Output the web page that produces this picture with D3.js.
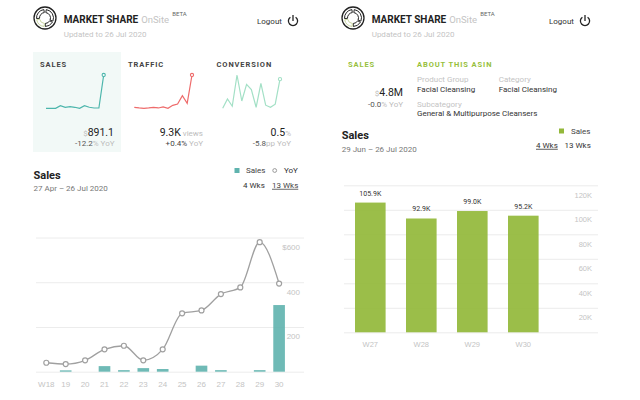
<!DOCTYPE html>
<html>
<head>
<meta charset="utf-8">
<script src="https://cdn.jsdelivr.net/npm/d3@7"></script>
<style>
  html, body { margin: 0; padding: 0; background: #fff; }
  svg { display: block; font-family: Roboto, sans-serif; }
  .domain { display: none; }
</style>
</head>
<body>
<svg id="chart" width="640" height="400"></svg>
<script>
// left chart data
var weeks13 = ["W18", "19", "20", "21", "22", "23", "24", "25", "26", "27", "28", "29", "30"];
var sales13 = [0, 6, 0, 25, 7, 16, 12, 0, 27, 7, 0, 7, 298];
var yoy13 = [40, 34, 51, 100, 116, 51, 100, 261, 274, 347, 377, 579, 394];
var ticks13 = [0, 200, 400, 600];

// sparklines
var sparkSales = [40, 40, 40, 108, 66, 83, 66, 40, 108, 66, 48, 48, 891];
var sparkTraffic = [5129, 5043, 5000, 5043, 5129, 5043, 5172, 5000, 5387, 5559, 6634, 5645, 9300];
var sparkConversion = [0.22, 0.31, 0.24, 0.54, 0.29, 0.45, 0.40, 0.23, 0.46, 0.25, 0.23, 0.26, 0.50];

// right chart data
var weeks4 = ["W27", "W28", "W29", "W30"];
var sales4 = [105.9, 92.9, 99.0, 95.2];
var ticks4 = [0, 20, 40, 60, 80, 100, 120];

var teal = "#5fb3ae", green = "#93b83a", dark = "#222", grey = "#bdbdbd", mid = "#777";

var svg = d3.select("#chart");

function label(g, x, y, str, size, color, opts) {
  opts = opts || {};
  return g.append("text")
    .attr("x", x).attr("y", y)
    .attr("dy", "0.35em")
    .attr("font-size", size)
    .attr("fill", color)
    .attr("text-anchor", opts.anchor || "start")
    .attr("font-weight", opts.weight || 400)
    .attr("letter-spacing", opts.spacing || 0)
    .text(str);
}

// text made of coloured pieces, right aligned
function pieces(g, x, y, parts) {
  var t = g.append("text").attr("x", x).attr("y", y).attr("dy", "0.35em").attr("text-anchor", "end");
  parts.forEach(function(p) {
    t.append("tspan").attr("font-size", p[1]).attr("fill", p[2]).text(p[0]);
  });
}

function header(xLogo, xLogout) {
  var g = svg.append("g");
  var logo = g.append("g").attr("transform", "translate(" + xLogo + ",18)");
  logo.append("circle").attr("r", 11).attr("fill", "none").attr("stroke", "#222").attr("stroke-width", 1.3);
  var arc = d3.arc().innerRadius(5.5).outerRadius(8.5);
  [[0.15, 1.95, "#222"], [2.1, 3.1, "#222"], [3.25, 4.5, "#c9d6a0"], [4.65, 6.15, "#222"]].forEach(function(a) {
    logo.append("path")
      .attr("d", arc({ startAngle: a[0], endAngle: a[1] }))
      .attr("fill", "none").attr("stroke", a[2]).attr("stroke-width", 1);
  });
  var xt = xLogo + 18.7;
  label(g, xt, 19, "MARKET SHARE", 10, "#222", { weight: 700 });
  label(g, xt + 77.5, 19.5, "OnSite", 9.5, "#c4c4c4");
  label(g, xt + 108.5, 14, "BETA", 6, "#666");
  label(g, xt, 34, "Updated to 26 Jul 2020", 8, "#c4c4c4");
  label(g, xLogout, 21, "Logout", 8, "#333");
  var p = g.append("g").attr("transform", "translate(" + (xLogout + 36) + ",21)")
    .attr("fill", "none").attr("stroke", "#222").attr("stroke-width", 1.3);
  p.append("path").attr("d", d3.arc()({ innerRadius: 4.6, outerRadius: 4.6, startAngle: 0.6, endAngle: 5.68 }));
  p.append("line").attr("y1", -6).attr("y2", 0);
}

function spark(values, x0, x1, color) {
  var x = d3.scalePoint().domain(d3.range(values.length)).range([x0, x1]);
  var y = d3.scaleLinear().domain(d3.extent(values)).range([108.3, 75]);
  var line = d3.line().x(function(d, i) { return x(i); }).y(function(d) { return y(d); });
  svg.append("path").attr("d", line(values)).attr("fill", "none").attr("stroke", color).attr("stroke-width", 1.2);
  svg.append("circle").attr("cx", x1).attr("cy", y(values[values.length - 1])).attr("r", 1.6)
    .attr("fill", "#fff").attr("stroke", color).attr("stroke-width", 1.1);
}

// ---------- left panel ----------
header(45, 257);

svg.append("rect").attr("x", 33).attr("y", 52).attr("width", 88).attr("height", 100).attr("fill", "#f2f9f7");
label(svg, 40, 64, "SALES", 7.5, "#444", { weight: 700, spacing: 0.9 });
label(svg, 128, 64, "TRAFFIC", 7.5, "#444", { weight: 700, spacing: 0.9 });
label(svg, 216.5, 64, "CONVERSION", 7.5, "#444", { weight: 700, spacing: 0.9 });

spark(sparkSales, 46, 103.7, "#4db6ac");
spark(sparkTraffic, 134.3, 192, "#ee6b6b");
spark(sparkConversion, 222.7, 280, "#a3e0c6");

pieces(svg, 114, 130, [["$", 8, grey], ["891.1", 10.5, "#222"]]);
pieces(svg, 114.5, 140.5, [["-12.2", 8, "#555"], ["% YoY", 8, grey]]);
pieces(svg, 203, 130, [["9.3K", 10.5, "#222"], [" views", 8, grey]]);
pieces(svg, 203, 140.5, [["+0.4%", 8, "#444"], [" YoY", 8, grey]]);
pieces(svg, 291, 130, [["0.5", 10.5, "#222"], ["%", 8, grey]]);
pieces(svg, 291, 140.5, [["-5.8", 8, "#555"], ["pp YoY", 8, grey]]);

label(svg, 33.5, 175, "Sales", 11, dark, { weight: 700 });
label(svg, 33.5, 188.5, "27 Apr \u2013 26 Jul 2020", 8, mid);

svg.append("rect").attr("x", 234.5).attr("y", 168).attr("width", 5).attr("height", 5).attr("fill", teal);
label(svg, 246, 170.5, "Sales", 8, "#444");
svg.append("circle").attr("cx", 274.7).attr("cy", 170.5).attr("r", 1.9).attr("fill", "#fff").attr("stroke", "#999");
label(svg, 284, 170.5, "YoY", 8, "#333");
label(svg, 243, 185, "4 Wks", 8, "#333");
label(svg, 272, 185, "13 Wks", 8, "#444").attr("text-decoration", "underline");

var x13 = d3.scaleBand().domain(weeks13).range([36.6, 288.8]).paddingInner(0.4).paddingOuter(0.2);
var y13 = d3.scaleLinear().domain([0, 600]).range([371.7, 237.5]);

var yAxis13 = d3.axisRight(y13).tickValues(ticks13).tickSize(0)
  .tickFormat(function(d) { return d === 0 ? "" : d === 600 ? "$600" : d; });
var gy13 = svg.append("g").attr("transform", "translate(300,0)").call(yAxis13);
gy13.selectAll(".tick line").attr("x1", -264).attr("x2", 4).attr("stroke", "#ececec");
gy13.selectAll(".tick text").attr("x", 0).attr("dy", "1.5em")
  .attr("text-anchor", "end").attr("fill", "#c4c4c4").attr("font-size", 8);

var xAxis13 = d3.axisBottom(x13).tickSize(0);
var gx13 = svg.append("g").attr("transform", "translate(0,371.7)").call(xAxis13);
gx13.selectAll(".tick text").attr("y", 12.3).attr("dy", "0.35em")
  .attr("fill", "#c4c4c4").attr("font-size", 8);

svg.append("g").selectAll("rect").data(sales13).enter().append("rect")
  .attr("x", function(d, i) { return x13(weeks13[i]); })
  .attr("width", x13.bandwidth())
  .attr("y", function(d) { return y13(d); })
  .attr("height", function(d) { return y13(0) - y13(d); })
  .attr("fill", teal).attr("fill-opacity", 0.9);

var cx13 = function(d, i) { return x13(weeks13[i]) + x13.bandwidth() / 2; };
var yoyLine = d3.line().x(cx13).y(function(d) { return y13(d); }).curve(d3.curveMonotoneX);
svg.append("path").attr("d", yoyLine(yoy13)).attr("fill", "none").attr("stroke", "#a0a0a0").attr("stroke-width", 1.3);
svg.append("g").selectAll("circle").data(yoy13).enter().append("circle")
  .attr("cx", cx13)
  .attr("cy", function(d) { return y13(d); })
  .attr("r", 2.5)
  .attr("fill", "#fff").attr("stroke", "#a0a0a0").attr("stroke-width", 1.2);

// ---------- right panel ----------
header(353, 549);

label(svg, 348, 64, "SALES", 7.5, "#97bf3c", { weight: 700, spacing: 0.9 });
label(svg, 417, 64, "ABOUT THIS ASIN", 7.5, "#97bf3c", { weight: 700, spacing: 0.9 });
pieces(svg, 403, 90, [["$", 8, grey], ["4.8M", 10.5, "#222"]]);
pieces(svg, 403, 101, [["-0.0", 8, "#555"], ["% YoY", 8, grey]]);

label(svg, 417, 79.5, "Product Group", 8, "#c4c4c4");
label(svg, 417, 89, "Facial Cleansing", 8, "#333");
label(svg, 498.7, 79.5, "Category", 8, "#c4c4c4");
label(svg, 498.7, 89, "Facial Cleansing", 8, "#333");
label(svg, 417, 104, "Subcategory", 8, "#c4c4c4");
label(svg, 417, 113.5, "General & Multipurpose Cleansers", 8, "#333");

label(svg, 341.7, 135, "Sales", 11, dark, { weight: 700 });
label(svg, 341.7, 149, "29 Jun \u2013 26 Jul 2020", 8, mid);

svg.append("rect").attr("x", 559).attr("y", 128.5).attr("width", 5).attr("height", 5).attr("fill", green);
label(svg, 571, 131, "Sales", 8, "#444");
label(svg, 536, 145, "4 Wks", 8, "#333").attr("text-decoration", "underline");
label(svg, 564.5, 145, "13 Wks", 8, "#333");

var x4 = d3.scaleBand().domain(weeks4).range([344.8, 548.8]).paddingInner(0.4).paddingOuter(0.2);
var y4 = d3.scaleLinear().domain([0, 120]).range([332.3, 185.3]);

var yAxis4 = d3.axisRight(y4).tickValues(ticks4).tickSize(0)
  .tickFormat(function(d) { return d === 0 ? "" : d + "K"; });
var gy4 = svg.append("g").attr("transform", "translate(592,0)").call(yAxis4);
gy4.selectAll(".tick line").attr("x1", -248).attr("x2", 6).attr("stroke", "#ececec");
gy4.selectAll(".tick text").attr("x", 0).attr("dy", "1.6em")
  .attr("text-anchor", "end").attr("fill", "#c4c4c4").attr("font-size", 7.5);

var xAxis4 = d3.axisBottom(x4).tickSize(0);
var gx4 = svg.append("g").attr("transform", "translate(0,332.3)").call(xAxis4);
gx4.selectAll(".tick text").attr("y", 12).attr("dy", "0.35em")
  .attr("fill", "#c4c4c4").attr("font-size", 7.5);

svg.append("g").selectAll("rect").data(sales4).enter().append("rect")
  .attr("x", function(d, i) { return x4(weeks4[i]); })
  .attr("width", x4.bandwidth())
  .attr("y", function(d) { return y4(d); })
  .attr("height", function(d) { return y4(0) - y4(d); })
  .attr("fill", green).attr("fill-opacity", 0.92);

svg.append("g").selectAll("text").data(sales4).enter().append("text")
  .attr("x", function(d, i) { return x4(weeks4[i]) + x4.bandwidth() / 2; })
  .attr("y", function(d) { return y4(d) - 9.5; })
  .attr("dy", "0.35em")
  .attr("text-anchor", "middle").attr("font-size", 7).attr("fill", "#333")
  .text(function(d) { return d.toFixed(1) + "K"; });
</script>
</body>
</html>
